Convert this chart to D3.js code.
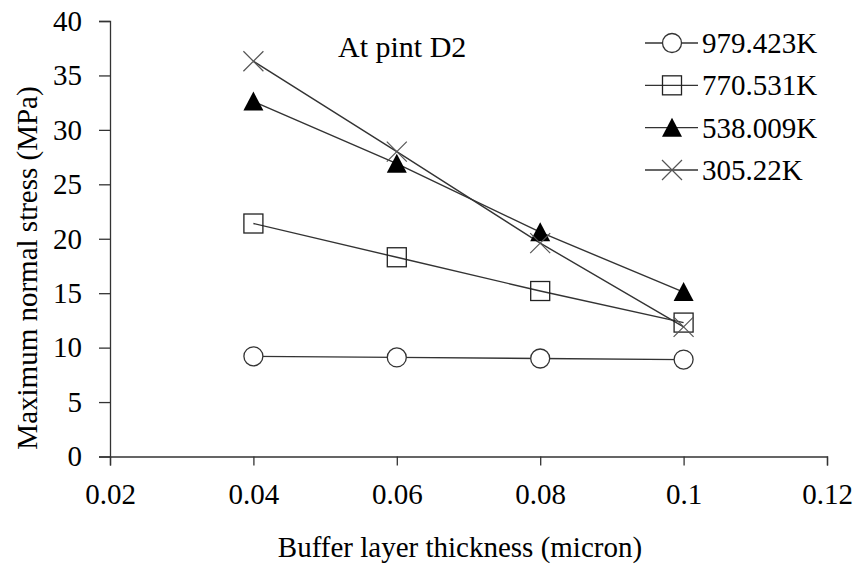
<!DOCTYPE html>
<html>
<head>
<meta charset="utf-8">
<script src="https://cdn.jsdelivr.net/npm/d3@7"></script>
<style>
  body { margin: 0; background: #fff; }
  svg text { font-family: "Liberation Serif", LiberationSerif, Tinos, "Times New Roman", Times, "Nimbus Roman", "Nimbus Roman No9 L", FreeSerif, "Noto Serif", "DejaVu Serif", serif; fill: #000; }
</style>
</head>
<body>
<svg id="chart" width="860" height="567"></svg>
<script>
const thickness = [0.04, 0.06, 0.08, 0.1];
const stress979 = [9.2, 9.1, 9.0, 8.9];
const stress770 = [21.4, 18.3, 15.2, 12.3];
const stress538 = [32.6, 26.9, 20.6, 15.1];
const stress305 = [36.3, 28.0, 19.6, 11.9];
const seriesNames = ['979.423K', '770.531K', '538.009K', '305.22K'];
const xTicks = [0.02, 0.04, 0.06, 0.08, 0.1, 0.12];
const yTicks = [0, 5, 10, 15, 20, 25, 30, 35, 40];

const series = [
  { name: seriesNames[0], values: stress979, marker: 'circle' },
  { name: seriesNames[1], values: stress770, marker: 'square' },
  { name: seriesNames[2], values: stress538, marker: 'triangle' },
  { name: seriesNames[3], values: stress305, marker: 'cross' }
];

const svg = d3.select('#chart');
const x = d3.scaleLinear().domain([0.02, 0.12]).range([110, 827]);
const y = d3.scaleLinear().domain([0, 40]).range([456.5, 21]);
const lineColor = '#333';

// axes
const yAxis = svg.append('g')
  .attr('transform', `translate(${x(0.02)},0)`)
  .call(d3.axisLeft(y).tickValues(yTicks).tickSize(11).tickPadding(17).tickFormat(d3.format('d')));
const xAxis = svg.append('g')
  .attr('transform', `translate(0,${y(0)})`)
  .call(d3.axisBottom(x).tickValues(xTicks).tickSize(9).tickPadding(18).tickFormat(d => String(d)));

[yAxis, xAxis].forEach(g => {
  g.attr('font-family', null);
  g.select('.domain').attr('stroke', lineColor).attr('stroke-width', 1.3);
  g.selectAll('.tick line').attr('stroke', lineColor).attr('stroke-width', 1.3);
  g.selectAll('.tick text').attr('font-size', 29).attr('fill', '#000');
});
xAxis.selectAll('.tick text').attr('dy', '0.71em');

svg.append('text')
  .attr('x', 460).attr('y', 557)
  .attr('text-anchor', 'middle')
  .attr('font-size', 29)
  .text('Buffer layer thickness (micron)');

svg.append('text')
  .attr('transform', 'translate(37,268) rotate(-90)')
  .attr('text-anchor', 'middle')
  .attr('font-size', 29)
  .text('Maximum normal stress (MPa)');

svg.append('text')
  .attr('x', 338).attr('y', 57)
  .attr('font-size', 30)
  .text('At pint D2');

function drawMarker(g, type) {
  if (type === 'circle') {
    g.append('circle').attr('r', 9.5).attr('fill', '#fff').attr('stroke', lineColor).attr('stroke-width', 1.3);
  } else if (type === 'square') {
    g.append('rect').attr('x', -9.5).attr('y', -9.5).attr('width', 19).attr('height', 19)
      .attr('fill', 'none').attr('stroke', '#222').attr('stroke-width', 1.3);
  } else if (type === 'triangle') {
    g.append('path').attr('d', 'M0,-10L10,9L-10,9Z').attr('fill', '#000');
  } else {
    g.append('path').attr('d', 'M-10,-10L10,10M-10,10L10,-10')
      .attr('stroke', '#555').attr('stroke-width', 1.2).attr('fill', 'none');
  }
}

const line = d3.line().x((d, i) => x(thickness[i])).y(d => y(d));

series.forEach(s => {
  svg.append('path')
    .attr('d', line(s.values))
    .attr('fill', 'none')
    .attr('stroke', lineColor)
    .attr('stroke-width', 1.4);
});
series.forEach(s => {
  s.values.forEach((v, i) => {
    const g = svg.append('g').attr('transform', `translate(${x(thickness[i])},${y(v)})`);
    drawMarker(g, s.marker);
  });
});

// legend
const legendY = d3.scaleLinear().domain([0, 3]).range([43, 170]);
series.forEach((s, i) => {
  const g = svg.append('g').attr('transform', `translate(0,${legendY(i)})`);
  g.append('line').attr('x1', 645).attr('x2', 698).attr('y1', 0).attr('y2', 0)
    .attr('stroke', lineColor).attr('stroke-width', 1.4);
  const m = g.append('g').attr('transform', 'translate(672,0)');
  drawMarker(m, s.marker);
  g.append('text').attr('x', 702).attr('y', 0).attr('dy', '0.35em')
    .attr('font-size', 29).text(s.name);
});
</script>
</body>
</html>
